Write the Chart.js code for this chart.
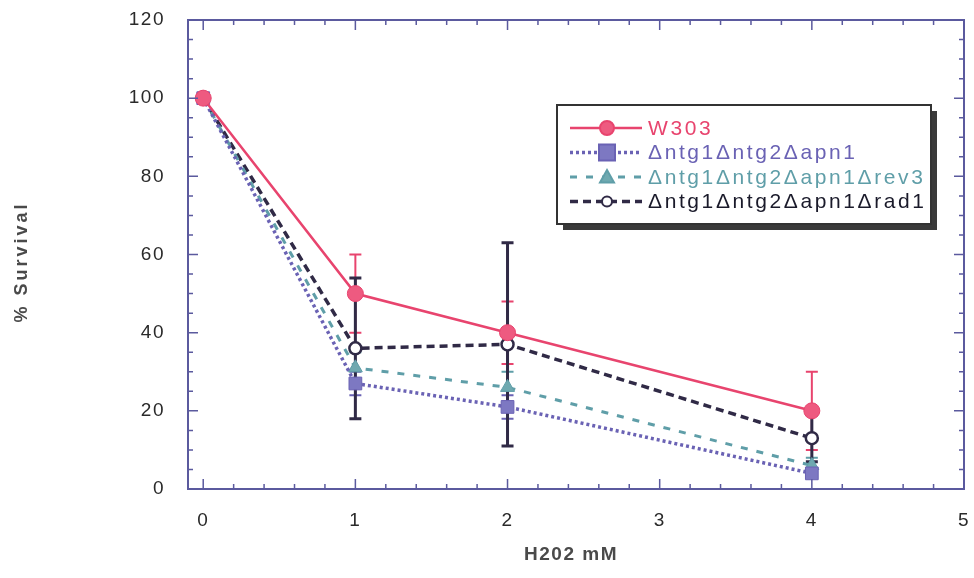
<!DOCTYPE html>
<html>
<head>
<meta charset="utf-8">
<script src="https://cdn.jsdelivr.net/npm/chart.js@4.4.0/dist/chart.umd.min.js"></script>
<style>
  html, body { margin: 0; background: #fff; }
</style>
</head>
<body>
<canvas id="survival" width="974" height="578"></canvas>
<script>
// H2O2 survival curves, four strains
const doses = [0, 1, 2, 4];
const strainNames = ['W303', 'Δntg1Δntg2Δapn1', 'Δntg1Δntg2Δapn1Δrev3', 'Δntg1Δntg2Δapn1Δrad1'];
const w303 = [100, 50, 40, 20];
const apn1 = [100, 27, 21, 4];
const rev3 = [100, 31, 26, 6];
const rad1 = [100, 36, 37, 13];
const w303Err = [0, 10, 8, 10];
const apn1Err = [0, 3, 3, 1];
const rev3Err = [0, 4, 4, 2];
const rad1Err = [0, 18, 26, 6];
const xTicks = [0, 1, 2, 3, 4, 5];
const yTicks = [0, 20, 40, 60, 80, 100, 120];

const FONT = "'Liberation Sans', Arial, sans-serif";

const styles = [
  { color: '#e8446e', dash: [], width: 2.5, point: 'circle', radius: 8, fill: '#ee5a80' },
  { color: '#6a62b4', dash: [3, 3], width: 3.5, point: 'rect', radius: 9, fill: '#7d78c2' },
  { color: '#5f9ea8', dash: [7, 9], width: 3, point: 'triangle', radius: 8, fill: '#6fa9b0' },
  { color: '#302a46', dash: [8, 5], width: 3.5, point: 'circle', radius: 6, fill: '#ffffff' }
];
const seriesValues = [w303, apn1, rev3, rad1];
const seriesErrors = [w303Err, apn1Err, rev3Err, rad1Err];

const datasets = seriesValues.map((vals, i) => ({
  label: strainNames[i],
  data: doses.map((x, j) => ({ x: x, y: vals[j] })),
  errors: seriesErrors[i],
  borderColor: styles[i].color,
  borderWidth: styles[i].width,
  borderDash: styles[i].dash,
  backgroundColor: styles[i].fill,
  pointStyle: styles[i].point,
  pointRadius: styles[i].radius,
  pointBackgroundColor: styles[i].fill,
  pointBorderColor: styles[i].color,
  pointBorderWidth: i === 3 ? 2.5 : 1,
  tension: 0
}));

// vertical error bars with caps
const errorBars = {
  id: 'errorBars',
  beforeDatasetsDraw(chart) {
    const ctx = chart.ctx;
    const xs = chart.scales.x, ys = chart.scales.y;
    ctx.save();
    chart.data.datasets.forEach((ds, i) => {
      ctx.strokeStyle = ds.borderColor;
      ctx.lineWidth = i === 3 ? 3 : 2;
      ds.data.forEach((p, j) => {
        const e = ds.errors[j];
        if (!e) return;
        const px = xs.getPixelForValue(p.x);
        const top = ys.getPixelForValue(p.y + e);
        const bot = ys.getPixelForValue(p.y - e);
        ctx.beginPath();
        ctx.moveTo(px, top); ctx.lineTo(px, bot);
        ctx.moveTo(px - 6, top); ctx.lineTo(px + 6, top);
        ctx.moveTo(px - 6, bot); ctx.lineTo(px + 6, bot);
        ctx.stroke();
      });
    });
    ctx.restore();
  }
};

// frame around the plot with inward ticks on every side, plus axis titles
const frame = {
  id: 'frame',
  beforeDraw(chart) {
    chart.ctx.letterSpacing = '1.5px';
  },
  afterDraw(chart) {
    const ctx = chart.ctx;
    const a = chart.chartArea;
    const xs = chart.scales.x, ys = chart.scales.y;
    ctx.save();
    ctx.strokeStyle = '#5b5a9e';
    ctx.lineWidth = 2;
    ctx.strokeRect(a.left, a.top, a.right - a.left, a.bottom - a.top);
    ctx.lineWidth = 1.5;
    ctx.beginPath();
    for (let v = 0; v <= 5.001; v += 0.2) {
      const px = xs.getPixelForValue(v);
      const len = Math.abs(v - Math.round(v)) < 0.01 ? 10 : 5;
      ctx.moveTo(px, a.bottom); ctx.lineTo(px, a.bottom - len);
      ctx.moveTo(px, a.top); ctx.lineTo(px, a.top + len);
    }
    for (let v = 0; v <= 120; v += 5) {
      const py = ys.getPixelForValue(v);
      const len = v % 20 === 0 ? 10 : 5;
      ctx.moveTo(a.left, py); ctx.lineTo(a.left + len, py);
      ctx.moveTo(a.right, py); ctx.lineTo(a.right - len, py);
    }
    ctx.stroke();

    ctx.fillStyle = '#4a4a4a';
    ctx.font = 'bold 19px ' + FONT;
    ctx.textAlign = 'center';
    ctx.textBaseline = 'middle';
    ctx.letterSpacing = '1.5px';
    ctx.fillText('H202 mM', (a.left + a.right) / 2 - 5, 555);
    ctx.font = 'bold 18px ' + FONT;
    ctx.translate(22, 262);
    ctx.rotate(-Math.PI / 2);
    ctx.letterSpacing = '3px';
    ctx.fillText('% Survival', 0, 0);
    ctx.restore();
  }
};

function marker(ctx, st, x, y) {
  ctx.setLineDash([]);
  ctx.fillStyle = st.fill;
  ctx.strokeStyle = st.color;
  ctx.lineWidth = 2;
  const r = st.radius - 1;
  ctx.beginPath();
  if (st.point === 'rect') {
    ctx.rect(x - r, y - r, 2 * r, 2 * r);
  } else if (st.point === 'triangle') {
    ctx.moveTo(x, y - r); ctx.lineTo(x + r, y + r * 0.8); ctx.lineTo(x - r, y + r * 0.8); ctx.closePath();
  } else {
    ctx.arc(x, y, r, 0, Math.PI * 2);
  }
  ctx.fill();
  ctx.stroke();
}

// boxed legend with drop shadow inside the plot
const boxLegend = {
  id: 'boxLegend',
  afterDraw(chart) {
    const ctx = chart.ctx;
    const bx = 557, by = 105, bw = 374, bh = 119;
    ctx.save();
    ctx.fillStyle = '#3a3a3a';
    ctx.fillRect(bx + 6, by + 6, bw, bh);
    ctx.fillStyle = '#ffffff';
    ctx.fillRect(bx, by, bw, bh);
    ctx.strokeStyle = '#333';
    ctx.lineWidth = 2;
    ctx.strokeRect(bx, by, bw, bh);
    ctx.font = '21px ' + FONT;
    ctx.textBaseline = 'middle';
    ctx.textAlign = 'left';
    strainNames.forEach((name, i) => {
      const st = styles[i];
      const y = by + 23 + i * 24.5;
      ctx.strokeStyle = st.color;
      ctx.lineWidth = st.width;
      ctx.setLineDash(st.dash);
      ctx.beginPath();
      ctx.moveTo(570, y); ctx.lineTo(642, y);
      ctx.stroke();
      marker(ctx, st, 607, y);
      ctx.fillStyle = i === 3 ? '#1a1a2a' : st.color;
      ctx.letterSpacing = '2.6px';
      ctx.fillText(name, 648, y + 1);
    });
    ctx.restore();
  }
};

function fixBox(size) {
  return (s) => {
    if (s.isHorizontal()) s.height = size; else s.width = size;
    s.paddingTop = 0; s.paddingBottom = 0; s.paddingLeft = 0; s.paddingRight = 0;
  };
}

new Chart(document.getElementById('survival'), {
  type: 'line',
  data: { datasets: datasets },
  plugins: [errorBars, frame, boxLegend],
  options: {
    responsive: false,
    animation: false,
    layout: { padding: { top: 20, right: 9, left: 0, bottom: 0 } },
    plugins: { legend: { display: false }, tooltip: { enabled: false } },
    scales: {
      x: {
        type: 'linear',
        min: -0.1,
        max: 5,
        afterBuildTicks: (s) => { s.ticks = xTicks.map(v => ({ value: v })); },
        afterFit: fixBox(89),
        grid: { display: false, drawTicks: false },
        border: { display: false },
        ticks: { padding: 20, color: '#2a2a2a', font: { family: FONT, size: 19 } }
      },
      y: {
        min: 0,
        max: 120,
        afterBuildTicks: (s) => { s.ticks = yTicks.map(v => ({ value: v })); },
        afterFit: fixBox(188),
        grid: { display: false, drawTicks: false },
        border: { display: false },
        ticks: { padding: 23, color: '#2a2a2a', font: { family: FONT, size: 19 } }
      }
    }
  }
});
</script>
</body>
</html>
